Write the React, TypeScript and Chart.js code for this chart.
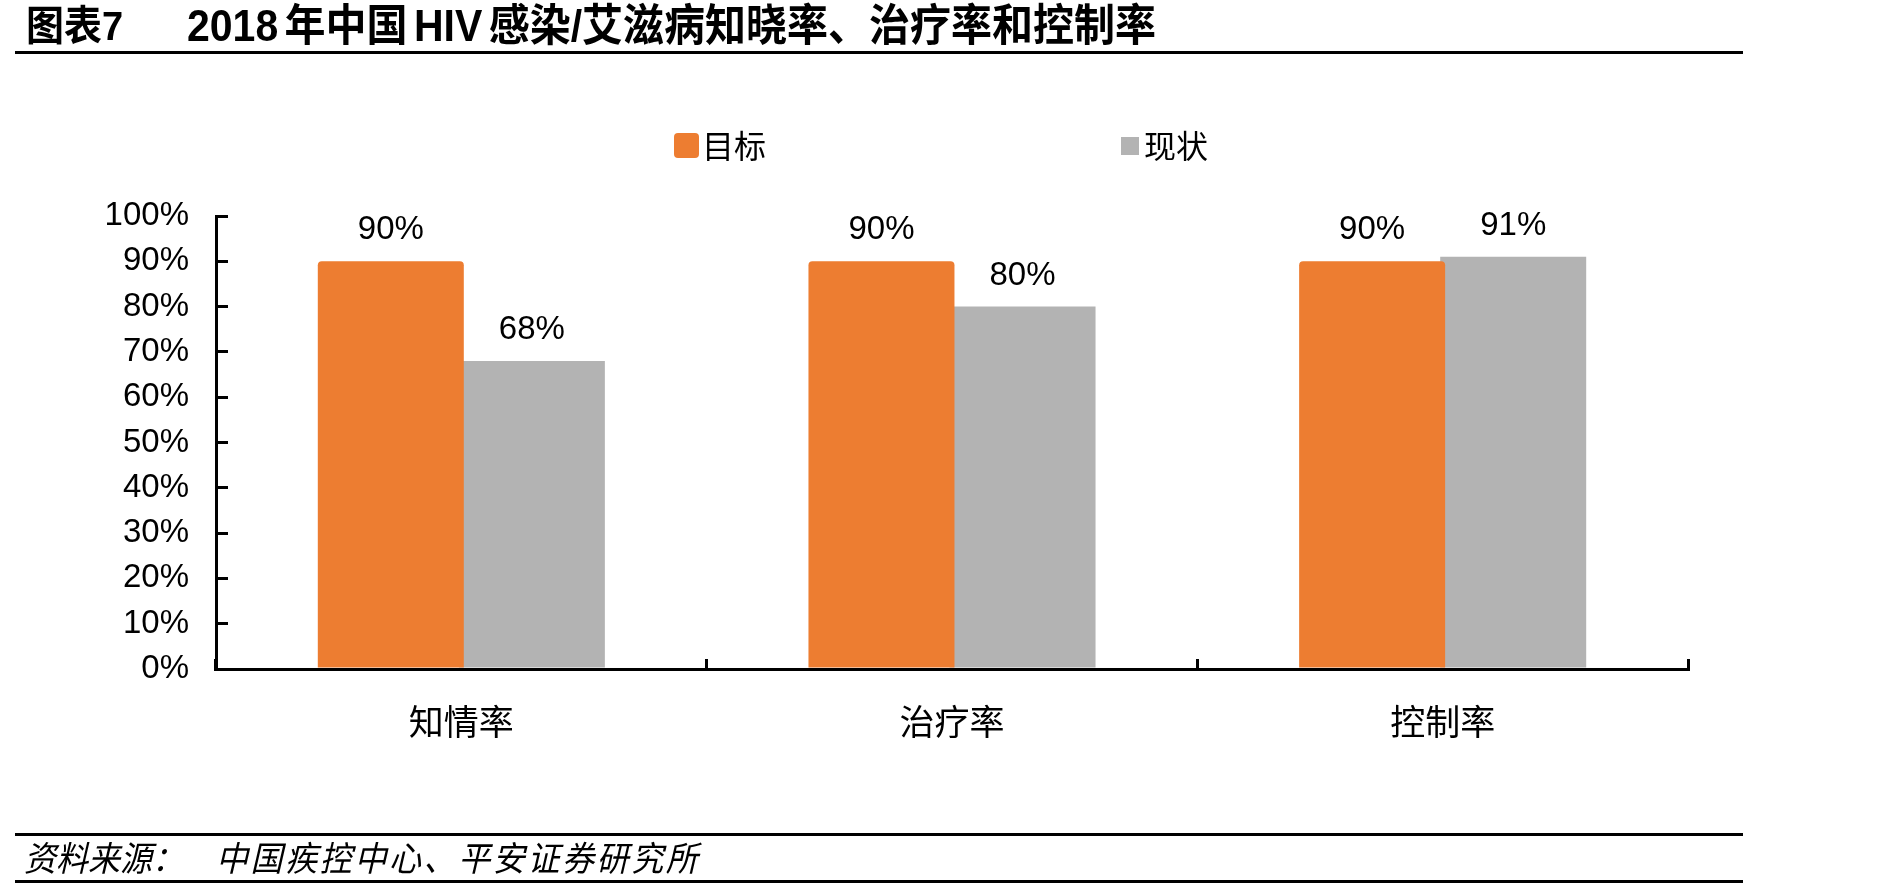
import React, { useEffect, useRef } from 'react';
import { Chart, registerables } from 'chart.js';

Chart.register(...registerables);

const categories = ['知情率', '治疗率', '控制率'];
const seriesNames = ['目标', '现状'];
const targetValues = [90, 90, 90];
const currentValues = [68, 80, 91];
const yMin = 0;
const yMax = 100;
const yStep = 10;

const titleLabel = '图表7';
const titleText = '2018 年中国 HIV 感染/艾滋病知晓率、治疗率和控制率';
const sourceLabel = '资料来源：';
const sourceText = '中国疾控中心、平安证券研究所';

const ORANGE = '#ED7D31';
const GRAY = '#B3B3B3';
const LATIN = '"Liberation Sans", Arial, "Noto Sans CJK SC", sans-serif';
const CJK = '"Noto Sans CJK SC", "Liberation Sans", sans-serif';

const dataLabelPlugin = {
  id: 'dataLabels',
  afterDatasetsDraw(chart: any) {
    const ctx = chart.ctx;
    ctx.save();
    ctx.font = `33px ${LATIN}`;
    ctx.fillStyle = '#000';
    ctx.textAlign = 'center';
    ctx.textBaseline = 'alphabetic';
    chart.data.datasets.forEach((ds: any, i: number) => {
      const meta = chart.getDatasetMeta(i);
      meta.data.forEach((bar: any, j: number) => {
        ctx.fillText(`${ds.data[j]}%`, bar.x, bar.y - 22);
      });
    });
    ctx.restore();
  },
};

function App() {
  const canvasRef = useRef<HTMLCanvasElement | null>(null);

  useEffect(() => {
    const canvas = canvasRef.current;
    if (!canvas) return;
    const chart = new Chart(canvas, {
      type: 'bar',
      data: {
        labels: categories,
        datasets: [
          {
            label: seriesNames[0],
            data: targetValues,
            backgroundColor: ORANGE,
            borderRadius: 4,
            borderSkipped: 'start',
            categoryPercentage: 0.575,
            barPercentage: 1.035,
          },
          {
            label: seriesNames[1],
            data: currentValues,
            backgroundColor: GRAY,
            borderRadius: 0,
            categoryPercentage: 0.575,
            barPercentage: 1.035,
          },
        ],
      },
      options: {
        responsive: false,
        animation: false,
        devicePixelRatio: 1,
        layout: { padding: { left: 0, right: 201, top: 216, bottom: 121 } },
        plugins: {
          legend: { display: false },
          title: { display: false },
          tooltip: { enabled: false },
        },
        scales: {
          x: {
            grid: {
              offset: true,
              drawOnChartArea: false,
              drawTicks: true,
              tickLength: -10,
              color: '#000',
              lineWidth: 3,
            },
            border: { display: true, color: '#000', width: 3 },
            ticks: {
              color: '#000',
              font: { family: CJK, size: 35 },
              padding: 42,
            },
            afterFit: (s: any) => {
              s.height = 100;
            },
          },
          y: {
            min: yMin,
            max: yMax,
            grid: {
              drawOnChartArea: false,
              drawTicks: true,
              tickLength: -12,
              color: '#000',
              lineWidth: 3,
            },
            border: { display: true, color: '#000', width: 3 },
            ticks: {
              stepSize: yStep,
              color: '#000',
              font: { family: LATIN, size: 33 },
              padding: 39,
              callback: (v: any) => `${v}%`,
            },
            afterFit: (s: any) => {
              s.width = 216;
            },
          },
        },
      },
      plugins: [dataLabelPlugin],
    });
    return () => chart.destroy();
  }, []);

  const line = (top: number): React.CSSProperties => ({
    position: 'absolute',
    left: 15,
    top,
    width: 1728,
    height: 3,
    background: '#000',
  });

  return (
    <div
      style={{
        position: 'fixed',
        left: 0,
        top: 0,
        width: 1889,
        height: 890,
        background: '#fff',
        overflow: 'hidden',
      }}
    >
      <canvas
        ref={canvasRef}
        width={1889}
        height={890}
        style={{ position: 'absolute', left: 0, top: 0, width: 1889, height: 890 }}
      />
      <div
        style={{
          position: 'absolute',
          left: 26,
          top: 4,
          fontFamily: LATIN,
          fontWeight: 'bold',
          fontSize: 38,
          lineHeight: '44px',
          whiteSpace: 'nowrap',
          color: '#000',
          transform: 'scaleY(1.08)',
          transformOrigin: 'center',
        }}
      >
        {titleLabel}
      </div>
      <div
        style={{
          position: 'absolute',
          left: 187,
          top: 3,
          fontFamily: LATIN,
          fontWeight: 'bold',
          fontSize: 41,
          lineHeight: '46px',
          wordSpacing: -5,
          whiteSpace: 'nowrap',
          color: '#000',
          transform: 'scaleY(1.08)',
          transformOrigin: 'center',
        }}
      >
        {titleText}
      </div>
      <div style={line(51)} />

      {/* legend */}
      <div
        style={{
          position: 'absolute',
          left: 674,
          top: 133,
          width: 25,
          height: 25,
          borderRadius: 4,
          background: ORANGE,
        }}
      />
      <div
        style={{
          position: 'absolute',
          left: 702,
          top: 128,
          fontFamily: CJK,
          fontSize: 32,
          lineHeight: '32px',
          color: '#000',
          whiteSpace: 'nowrap',
        }}
      >
        {seriesNames[0]}
      </div>
      <div
        style={{
          position: 'absolute',
          left: 1121,
          top: 137,
          width: 18,
          height: 18,
          background: GRAY,
        }}
      />
      <div
        style={{
          position: 'absolute',
          left: 1144,
          top: 128,
          fontFamily: CJK,
          fontSize: 32,
          lineHeight: '32px',
          color: '#000',
          whiteSpace: 'nowrap',
        }}
      >
        {seriesNames[1]}
      </div>

      {/* footer */}
      <div style={line(833)} />
      <div
        style={{
          position: 'absolute',
          left: 24,
          top: 840,
          fontFamily: CJK,
          fontStyle: 'italic',
          fontSize: 32,
          lineHeight: '32px',
          whiteSpace: 'nowrap',
          color: '#000',
          transform: 'scaleY(1.08)',
          transformOrigin: 'center',
        }}
      >
        {sourceLabel}
      </div>
      <div
        style={{
          position: 'absolute',
          left: 216,
          top: 840,
          fontFamily: CJK,
          fontStyle: 'italic',
          fontSize: 32,
          lineHeight: '32px',
          letterSpacing: 2.6,
          whiteSpace: 'nowrap',
          color: '#000',
          transform: 'scaleY(1.08)',
          transformOrigin: 'center',
        }}
      >
        {sourceText}
      </div>
      <div style={line(880)} />
    </div>
  );
}

export default App;
